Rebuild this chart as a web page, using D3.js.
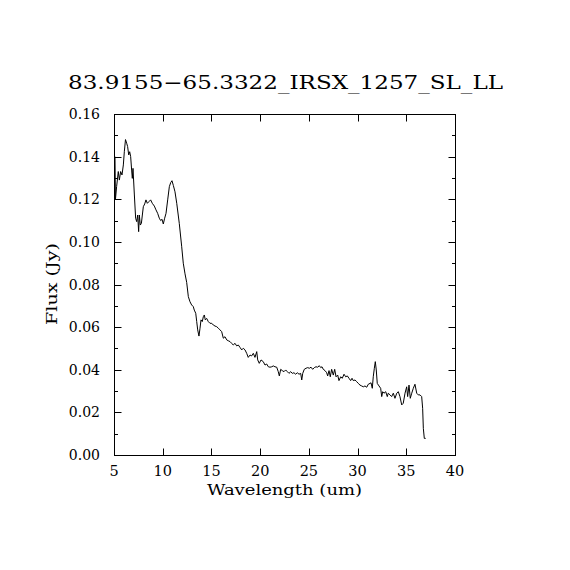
<!DOCTYPE html>
<html>
<head>
<meta charset="utf-8">
<script src="https://cdn.jsdelivr.net/npm/d3@7/dist/d3.min.js"></script>
<style>
  html, body { margin: 0; padding: 0; background: #fff; }
  svg { display: block; }
  text { font-family: "DejaVu Serif", "Liberation Serif", serif; fill: #000; }
</style>
</head>
<body>
<svg id="chart" width="570" height="570"></svg>
<script>
const title = "83.9155\u221265.3322_IRSX_1257_SL_LL";
const xLabel = "Wavelength (um)";
const yLabel = "Flux (Jy)";
const xTicks = [5, 10, 15, 20, 25, 30, 35, 40];
const yTicks = [0.00, 0.02, 0.04, 0.06, 0.08, 0.10, 0.12, 0.14, 0.16];
const yMinorTicks = [0.01, 0.03, 0.05, 0.07, 0.09, 0.11, 0.13, 0.15];

const wavelength = [
  5.10, 5.15, 5.27, 5.44, 5.55, 5.68, 5.82, 5.96, 6.06, 6.18, 6.30, 6.40, 6.51, 6.61, 6.71, 6.81, 6.88, 6.95,
  7.09, 7.22, 7.33, 7.43, 7.53, 7.60, 7.70, 7.81, 7.91, 8.01, 8.15, 8.28, 8.42, 8.59, 8.76, 8.93,
  9.14, 9.31, 9.48, 9.65, 9.79, 9.93, 10.06, 10.20, 10.34, 10.51, 10.68, 10.82, 10.95,
  11.09, 11.26, 11.44, 11.70, 11.95, 12.11, 12.29, 12.46, 12.63, 12.80, 12.97, 13.14, 13.24, 13.39,
  13.49, 13.59, 13.72, 13.83, 13.93, 14.06, 14.17, 14.27, 14.37, 14.51, 14.68, 14.85, 15.03, 15.19,
  15.37, 15.54, 15.71, 15.88, 16.05, 16.22, 16.39, 16.57, 16.73, 16.91, 17.08, 17.24, 17.42, 17.59,
  17.76, 17.93, 18.11, 18.27, 18.45, 18.62, 18.78, 18.96, 19.13, 19.30, 19.47, 19.65, 19.75, 19.91,
  20.09, 20.32, 20.50, 20.67, 20.84, 21.01, 21.19, 21.35, 21.52, 21.70, 21.86, 21.97, 22.11, 22.27,
  22.45, 22.62, 22.79, 22.96, 23.14, 23.30, 23.47, 23.65, 23.81, 23.99, 24.16, 24.27, 24.37, 24.53,
  24.71, 24.88, 25.05, 25.22, 25.39, 25.56, 25.73, 25.91, 26.07, 26.22, 26.35, 26.48, 26.66, 26.83,
  26.93, 27.07, 27.20, 27.34, 27.51, 27.65, 27.79, 27.96, 28.09, 28.27, 28.43, 28.61, 28.78, 28.95,
  29.12, 29.29, 29.43, 29.56, 29.74, 29.91, 30.07, 30.25, 30.42, 30.59, 30.76, 30.94, 31.10, 31.28,
  31.38, 31.51, 31.61, 31.72, 31.82, 31.92, 32.02, 32.20, 32.37, 32.48, 32.58, 32.71, 32.89, 33.05,
  33.15, 33.33, 33.50, 33.67, 33.84, 34.02, 34.18, 34.35, 34.53, 34.69, 34.87, 35.04, 35.14, 35.28,
  35.41, 35.56, 35.72, 35.89, 36.07, 36.23, 36.41, 36.58, 36.68, 36.75, 36.85, 36.99
];
const flux = [
  0.1400, 0.1200, 0.1260, 0.1330, 0.1290, 0.1330, 0.1314, 0.1361, 0.1423, 0.1480, 0.1463, 0.1447, 0.1408, 0.1423, 0.1400, 0.1337, 0.1298, 0.1345,
  0.1220, 0.1111, 0.1095, 0.1126, 0.1048, 0.1126, 0.1079, 0.1087, 0.1126, 0.1165, 0.1178, 0.1197, 0.1181, 0.1189, 0.1197, 0.1181,
  0.1168, 0.1150, 0.1134, 0.1111, 0.1100, 0.1106, 0.1084, 0.1111, 0.1134, 0.1197, 0.1259, 0.1278, 0.1287,
  0.1265, 0.1235, 0.1181, 0.1087, 0.0977, 0.0900, 0.0850, 0.0810, 0.0743, 0.0719, 0.0704, 0.0696, 0.0680, 0.0665,
  0.0626, 0.0587, 0.0558, 0.0595, 0.0634, 0.0626, 0.0649, 0.0657, 0.0634, 0.0641, 0.0626, 0.0618, 0.0618, 0.0610,
  0.0605, 0.0602, 0.0595, 0.0587, 0.0579, 0.0548, 0.0555, 0.0540, 0.0536, 0.0532, 0.0524, 0.0516, 0.0524, 0.0512,
  0.0516, 0.0505, 0.0493, 0.0501, 0.0493, 0.0477, 0.0458, 0.0469, 0.0465, 0.0477, 0.0458, 0.0485, 0.0446, 0.0430,
  0.0446, 0.0438, 0.0422, 0.0427, 0.0414, 0.0412, 0.0414, 0.0418, 0.0414, 0.0412, 0.0391, 0.0371, 0.0402, 0.0396,
  0.0391, 0.0399, 0.0391, 0.0383, 0.0391, 0.0383, 0.0386, 0.0379, 0.0386, 0.0379, 0.0383, 0.0352, 0.0383, 0.0402,
  0.0407, 0.0410, 0.0407, 0.0412, 0.0402, 0.0410, 0.0414, 0.0412, 0.0419, 0.0410, 0.0414, 0.0402, 0.0396, 0.0386,
  0.0371, 0.0396, 0.0367, 0.0402, 0.0375, 0.0402, 0.0367, 0.0375, 0.0349, 0.0367, 0.0360, 0.0379, 0.0367, 0.0371,
  0.0360, 0.0349, 0.0360, 0.0349, 0.0352, 0.0344, 0.0336, 0.0328, 0.0324, 0.0320, 0.0324, 0.0318, 0.0332, 0.0336,
  0.0339, 0.0313, 0.0367, 0.0407, 0.0438, 0.0399, 0.0336, 0.0324, 0.0313, 0.0274, 0.0297, 0.0290, 0.0297, 0.0274,
  0.0290, 0.0282, 0.0274, 0.0290, 0.0266, 0.0290, 0.0297, 0.0274, 0.0235, 0.0243, 0.0290, 0.0320, 0.0274, 0.0328,
  0.0266, 0.0290, 0.0313, 0.0332, 0.0290, 0.0282, 0.0282, 0.0274, 0.0219, 0.0125, 0.0078, 0.0078
];

const svg = d3.select("#chart");
const mLeft = 114, mRight = 455, mTop = 114, mBottom = 455;

const x = d3.scaleLinear().domain([5, 40]).range([mLeft, mRight]);
const y = d3.scaleLinear().domain([0, 0.16]).range([mBottom, mTop]);

const majorLen = 7, minorLen = 3.5;

// frame
svg.append("rect")
  .attr("x", mLeft + 0.5).attr("y", mTop + 0.5)
  .attr("width", mRight - mLeft).attr("height", mBottom - mTop)
  .attr("fill", "none").attr("stroke", "#000").attr("stroke-width", 1);

const axes = svg.append("g").attr("stroke", "#000").attr("stroke-width", 1);

// x ticks (bottom and top)
xTicks.forEach(t => {
  const px = Math.round(x(t)) + 0.5;
  axes.append("line").attr("x1", px).attr("x2", px).attr("y1", mBottom + 0.5).attr("y2", mBottom + 0.5 - majorLen);
  axes.append("line").attr("x1", px).attr("x2", px).attr("y1", mTop + 0.5).attr("y2", mTop + 0.5 + majorLen);
});
// y ticks (left and right)
yTicks.forEach(t => {
  const py = Math.round(y(t)) + 0.5;
  axes.append("line").attr("x1", mLeft + 0.5).attr("x2", mLeft + 0.5 + majorLen).attr("y1", py).attr("y2", py);
  axes.append("line").attr("x1", mRight + 0.5).attr("x2", mRight + 0.5 - majorLen).attr("y1", py).attr("y2", py);
});
yMinorTicks.forEach(t => {
  const py = Math.round(y(t)) + 0.5;
  axes.append("line").attr("x1", mLeft + 0.5).attr("x2", mLeft + 0.5 + minorLen).attr("y1", py).attr("y2", py);
  axes.append("line").attr("x1", mRight + 0.5).attr("x2", mRight + 0.5 - minorLen).attr("y1", py).attr("y2", py);
});

// tick labels
svg.append("g").selectAll("text").data(xTicks).join("text")
  .attr("x", d => x(d)).attr("y", 476)
  .attr("text-anchor", "middle")
  .style("font-size", "14.5px")
  .text(d => d3.format("d")(d));

svg.append("g").selectAll("text").data(yTicks).join("text")
  .attr("x", 100).attr("y", d => y(d))
  .attr("dy", "0.36em")
  .attr("text-anchor", "end")
  .style("font-size", "14px")
  .text(d => d3.format(".2f")(d));

// data line
const line = d3.line().x((d, i) => x(wavelength[i])).y((d, i) => y(flux[i]));
svg.append("path")
  .datum(flux)
  .attr("d", line)
  .attr("fill", "none")
  .attr("stroke", "#000")
  .attr("stroke-width", 1);

// title and axis labels
svg.append("text")
  .attr("x", 285.5).attr("y", 89)
  .attr("text-anchor", "middle")
  .attr("textLength", 435).attr("lengthAdjust", "spacingAndGlyphs")
  .style("font-size", "19px")
  .text(title);

svg.append("text")
  .attr("x", 284.5).attr("y", 495)
  .attr("text-anchor", "middle")
  .attr("textLength", 155).attr("lengthAdjust", "spacingAndGlyphs")
  .style("font-size", "15px")
  .text(xLabel);

svg.append("text")
  .attr("transform", "translate(57,284) rotate(-90)")
  .attr("text-anchor", "middle")
  .attr("textLength", 82).attr("lengthAdjust", "spacingAndGlyphs")
  .style("font-size", "15px")
  .text(yLabel);
</script>
</body>
</html>
